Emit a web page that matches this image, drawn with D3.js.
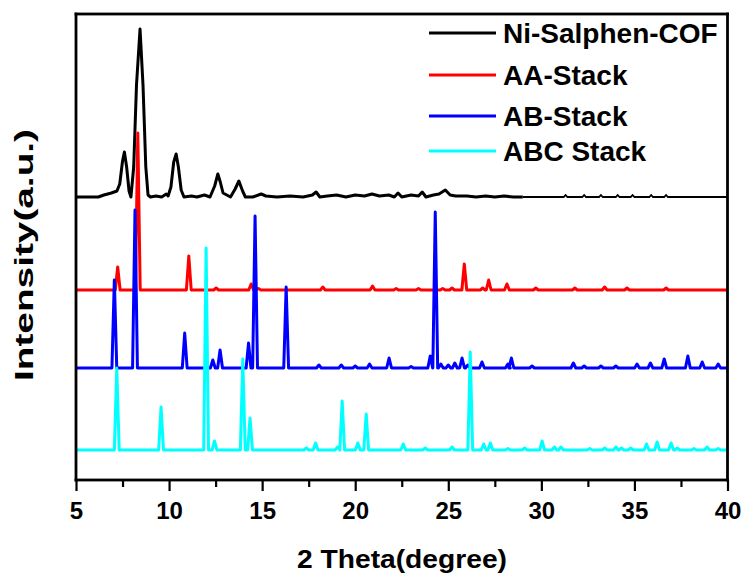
<!DOCTYPE html>
<html>
<head>
<meta charset="utf-8">
<script src="https://cdn.jsdelivr.net/npm/d3@7"></script>
<style>
body { margin: 0; background: #fff; }
text { font-family: "Liberation Sans", Arial, sans-serif; font-weight: bold; fill: #000; }
</style>
</head>
<body>
<svg id="chart" width="747" height="577"></svg>
<script>
// measured pattern of the COF: [2theta, intensity above its own baseline]
const cofPattern = [
  [5.0, 0], [6.2, 0], [6.5, 2], [6.9, 4], [7.2, 6], [7.35, 13], [7.5, 36], [7.6, 45], [7.72, 30],
  [7.85, 6], [7.95, 0], [8.1, 30], [8.25, 112], [8.44, 168], [8.6, 112], [8.75, 30], [8.87, 2],
  [9.0, 0], [9.3, 1], [9.6, 0], [9.85, 3], [9.95, 1], [10.1, 10], [10.25, 35], [10.38, 43],
  [10.5, 30], [10.65, 7], [10.8, 0], [11.2, 1], [11.5, 0], [11.9, 2], [12.2, 0], [12.45, 11],
  [12.62, 23], [12.75, 15], [12.9, 4], [13.1, 2], [13.3, 0], [13.55, 8], [13.75, 16], [13.95, 6],
  [14.1, 0], [14.5, 0], [14.95, 3], [15.2, 1], [15.8, 0], [16.5, 1], [17.2, 0], [17.7, 2],
  [17.9, 5], [18.1, 0], [18.5, 1], [19.0, 2], [19.5, 0], [20.0, 2], [20.5, 1], [20.9, 3],
  [21.3, 1], [21.8, 2], [22.1, 0], [22.3, 4], [22.5, 0], [23.0, 2], [23.4, 1], [23.6, 5],
  [23.8, 0], [24.2, 2], [24.5, 3], [24.84, 7], [25.1, 2], [25.4, 1], [26.0, 1], [26.5, 0],
  [27.0, 1], [27.5, 0], [28.0, 1], [28.5, 0], [29.0, 0]
];
const cofTail = [
  [29.0, 0], [31.2, 0], [31.3, 2], [31.4, 0], [32.2, 0], [32.3, 2], [32.4, 0], [33.1, 0],
  [33.2, 2], [33.3, 0], [34.0, 0], [34.1, 2], [34.2, 0], [34.8, 0], [34.9, 2], [35.0, 0],
  [35.8, 0], [35.9, 2], [36.0, 0], [36.6, 0], [36.7, 2], [36.8, 0], [40.0, 0]
];

// simulated peaks: [2theta, height]
const aaPeaks = [
  [7.24, 23], [8.32, 157], [11.06, 34], [12.53, 2], [14.41, 6], [14.8, 1.5], [18.26, 3],
  [20.93, 4], [22.2, 1.5], [23.4, 1.5], [24.7, 1.5], [25.2, 2], [25.86, 26], [26.85, 2],
  [27.17, 10], [28.15, 6], [29.7, 2], [31.8, 2], [33.4, 3], [34.6, 2], [36.7, 2]
];
const abPeaks = [
  [7.06, 88], [8.17, 158], [10.84, 35], [12.35, 8], [12.74, 18], [14.27, 25], [14.62, 152],
  [16.29, 81], [18.05, 3], [19.25, 3], [20.0, 2], [20.77, 4], [21.82, 10], [23.0, 1.5],
  [24.03, 12], [24.3, 156], [24.6, 4], [25.0, 3], [25.35, 5], [25.74, 10], [26.05, 3],
  [26.81, 6], [28.2, 4], [28.39, 10], [29.5, 2], [31.72, 5], [32.3, 2], [33.2, 2], [34.0, 2],
  [35.14, 4], [35.86, 5], [36.6, 9], [37.87, 12], [38.64, 6], [39.5, 4]
];
const abcPeaks = [
  [7.19, 82], [9.57, 43], [11.99, 202], [12.44, 9], [13.96, 91], [14.35, 32], [17.37, 2],
  [17.87, 7], [19.05, 3], [19.3, 49], [20.14, 7], [20.59, 36], [22.58, 6], [23.76, 2],
  [25.2, 3], [26.18, 98], [26.9, 6], [27.26, 7], [28.2, 1.5], [29.1, 2], [30.04, 9],
  [30.7, 3], [31.05, 3], [32.6, 1.5], [33.4, 2], [34.0, 3], [34.3, 2], [34.8, 2], [35.65, 6],
  [36.22, 8], [36.97, 7], [37.3, 2], [38.2, 1.5], [38.9, 3], [39.5, 1.5]
];

const seriesNames = ['Ni-Salphen-COF', 'AA-Stack', 'AB-Stack', 'ABC Stack'];
const seriesColors = ['#000000', '#ff0000', '#0000ff', '#00ffff'];
const seriesOffsets = [283, 190, 112, 30];

const majorTicks = [5, 10, 15, 20, 25, 30, 35, 40];
const minorTicks = [7.5, 12.5, 17.5, 22.5, 27.5, 32.5, 37.5];

const svg = d3.select('#chart');
svg.append('rect').attr('width', 747).attr('height', 577).attr('fill', '#fff');

const x = d3.scaleLinear().domain([5, 40]).range([76, 727.5]);
const y = d3.scaleLinear().domain([0, 466]).range([480, 14]);

// turn a peak list into a stick-like profile
function peaksToTrace(peaks, halfWidth) {
    const pts = [[5, 0]];
    peaks.forEach(p => {
        pts.push([p[0] - halfWidth, 0], [p[0], p[1]], [p[0] + halfWidth, 0]);
    });
    pts.push([40, 0]);
    return pts;
}

function lineFor(offset) {
    return d3.line()
        .x(d => x(d[0]))
        .y(d => y(d[1] + offset));
}

const traces = [
    cofPattern,
    peaksToTrace(aaPeaks, 0.13),
    peaksToTrace(abPeaks, 0.13),
    peaksToTrace(abcPeaks, 0.13)
];

const plot = svg.append('g');

traces.forEach((pts, i) => {
    plot.append('path')
        .attr('d', lineFor(seriesOffsets[i])(pts))
        .attr('fill', 'none')
        .attr('stroke', seriesColors[i])
        .attr('stroke-width', 3)
        .attr('stroke-linejoin', 'round');
    if (i === 0) {
        plot.append('path')
            .attr('d', lineFor(seriesOffsets[0])(cofTail))
            .attr('fill', 'none')
            .attr('stroke', '#000')
            .attr('stroke-width', 1.8);
    }
});

// frame as four filled bars
const [fx0, fx1] = x.range();
const [fyb, fyt] = y.range();
const bw = 2.8;
const frameBars = [
    { x: fx0 - bw / 2, y: fyt - bw / 2, w: fx1 - fx0 + bw, h: bw },
    { x: fx0 - bw / 2, y: fyb - bw / 2, w: fx1 - fx0 + bw, h: bw },
    { x: fx0 - bw / 2, y: fyt - bw / 2, w: bw, h: fyb - fyt + bw },
    { x: fx1 - bw / 2, y: fyt - bw / 2, w: bw, h: fyb - fyt + bw }
];
svg.append('g').selectAll('rect')
    .data(frameBars)
    .join('rect')
    .attr('x', d => d.x).attr('y', d => d.y)
    .attr('width', d => d.w).attr('height', d => d.h)
    .attr('fill', '#000');

// x axis ticks and labels
const xAxis = svg.append('g')
    .attr('transform', 'translate(0,480)')
    .call(d3.axisBottom(x).tickValues(majorTicks).tickSize(11).tickPadding(11).tickFormat(d3.format('d')));
xAxis.select('.domain').remove();
xAxis.selectAll('line').attr('stroke', '#000').attr('stroke-width', 2.2);
xAxis.selectAll('text')
    .style('font-size', '24px')
    .style('font-family', '"Liberation Sans", Arial, sans-serif')
    .style('font-weight', 'bold')
    .attr('fill', '#000');

const xMinor = svg.append('g')
    .attr('transform', 'translate(0,480)')
    .call(d3.axisBottom(x).tickValues(minorTicks).tickSize(7).tickFormat(''));
xMinor.select('.domain').remove();
xMinor.selectAll('line').attr('stroke', '#000').attr('stroke-width', 2.2);

// axis titles
svg.append('text')
    .attr('x', 402).attr('y', 568)
    .attr('text-anchor', 'middle')
    .attr('textLength', 210)
    .attr('lengthAdjust', 'spacingAndGlyphs')
    .style('font-size', '25px')
    .text('2 Theta(degree)');

svg.append('text')
    .attr('transform', 'translate(33,255) rotate(-90)')
    .attr('text-anchor', 'middle')
    .attr('textLength', 252)
    .attr('lengthAdjust', 'spacingAndGlyphs')
    .style('font-size', '26px')
    .text('Intensity(a.u.)');

// legend
const legendBaselines = [43, 85, 126, 161];
const legend = svg.append('g');
seriesNames.forEach((name, i) => {
    legend.append('line')
        .attr('x1', 429).attr('x2', 496)
        .attr('y1', legendBaselines[i] - 10).attr('y2', legendBaselines[i] - 10)
        .attr('stroke', seriesColors[i])
        .attr('stroke-width', 3);
    legend.append('text')
        .attr('x', 503).attr('y', legendBaselines[i])
        .style('font-size', '28px')
        .text(name);
});
</script>
</body>
</html>
